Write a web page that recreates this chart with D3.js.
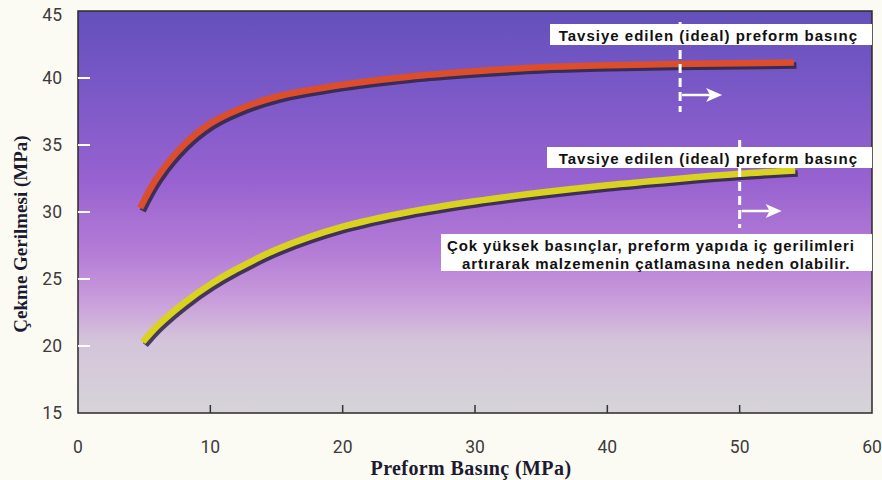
<!DOCTYPE html>
<html>
<head>
<meta charset="utf-8">
<script src="https://cdn.jsdelivr.net/npm/d3@7"></script>
<style>
  html, body { margin: 0; padding: 0; background: #fcfbf3; }
  svg { display: block; }
</style>
</head>
<body>
<svg id="chart" width="882" height="480"></svg>
<script>
// Preform pressure (MPa) vs. tensile strength (MPa)
const redPressure   = [4.7, 6, 8, 10, 12, 15, 20, 25, 30, 35, 40, 45, 50, 54.1];
const redStrength   = [30.3, 32.6, 35.0, 36.6, 37.6, 38.6, 39.5, 40.1, 40.5, 40.8, 40.95, 41.05, 41.1, 41.15];
const yellowPressure = [4.9, 6, 8, 10, 12, 15, 20, 25, 30, 35, 40, 45, 50, 54.2];
const yellowStrength = [20.3, 21.5, 23.2, 24.6, 25.75, 27.2, 28.9, 30.0, 30.8, 31.45, 32.0, 32.45, 32.85, 33.1];

const xTicks = [0, 10, 20, 30, 40, 50, 60];
const yTicks = [15, 20, 25, 30, 35, 40, 45];

// recommended (ideal) preform pressure markers, one per curve
const idealPressure = [45.5, 50];
const idealLabel = "Tavsiye edilen (ideal) preform basınç";
const warningLines = [
  "Çok yüksek basınçlar, preform yapıda iç gerilimleri",
  "artırarak malzemenin çatlamasına neden olabilir."
];
const xTitle = "Preform Basınç (MPa)";
const yTitle = "Çekme Gerilmesi (MPa)";

const svg = d3.select("#chart");
const x = d3.scaleLinear().domain([0, 60]).range([78, 872]);
const y = d3.scaleLinear().domain([15, 45]).range([413, 11]);

const defs = svg.append("defs");
const grad = defs.append("linearGradient")
  .attr("id", "bg").attr("x1", 0).attr("y1", 0).attr("x2", 0).attr("y2", 1);
[
  [0.00, "#6450bb"],
  [0.18, "#7858c6"],
  [0.42, "#9762d0"],
  [0.60, "#b47cd6"],
  [0.72, "#c99ddb"],
  [0.82, "#d4c4da"],
  [1.00, "#d6d4d8"]
].forEach(([o, c]) => grad.append("stop").attr("offset", o).attr("stop-color", c));

// plot background
svg.append("rect")
  .attr("x", x(0)).attr("y", y(45))
  .attr("width", x(60) - x(0)).attr("height", y(15) - y(45))
  .attr("fill", "url(#bg)");

// curves with a drop shadow
const line = d3.line().curve(d3.curveCatmullRom.alpha(0.5)).x(d => x(d[0])).y(d => y(d[1]));
const series = [
  { pts: d3.zip(redPressure, redStrength), color: "#dc4d2c" },
  { pts: d3.zip(yellowPressure, yellowStrength), color: "#d9d21e" }
];
series.forEach(s => {
  svg.append("path").attr("d", line(s.pts))
    .attr("transform", "translate(2.5,3)")
    .attr("fill", "none").attr("stroke", "#2e2444").attr("stroke-opacity", 0.85)
    .attr("stroke-width", 6.5);
  svg.append("path").attr("d", line(s.pts))
    .attr("fill", "none").attr("stroke", s.color).attr("stroke-width", 6.5);
});

// frame
svg.append("rect")
  .attr("x", x(0)).attr("y", y(45))
  .attr("width", x(60) - x(0)).attr("height", y(15) - y(45))
  .attr("fill", "none").attr("stroke", "#2a2a2a").attr("stroke-width", 1.5);

// y ticks (white, inside) and labels
const tickFont = "'Liberation Sans Narrow', 'Arial Narrow', 'Roboto', sans-serif";
svg.selectAll(".ytick").data(yTicks.filter(v => v > 15 && v < 45)).join("line")
  .attr("x1", x(0)).attr("x2", x(0) + 12)
  .attr("y1", d => y(d)).attr("y2", d => y(d))
  .attr("stroke", "#ffffff").attr("stroke-width", 2);
svg.selectAll(".ylab").data(yTicks).join("text")
  .attr("x", 62).attr("y", d => y(d) + (d === 45 ? 4 : 0))
  .attr("text-anchor", "end").attr("dominant-baseline", "central")
  .attr("font-family", tickFont).attr("font-size", 17.5).attr("fill", "#3c3c3c")
  .text(d => d);

// x ticks (dark, inside) and labels
svg.selectAll(".xtick").data(xTicks.filter(v => v > 0 && v < 60)).join("line")
  .attr("x1", d => x(d)).attr("x2", d => x(d))
  .attr("y1", y(15)).attr("y2", y(15) - 8)
  .attr("stroke", "#333").attr("stroke-width", 1.5);
svg.selectAll(".xlab").data(xTicks).join("text")
  .attr("x", d => x(d)).attr("y", 447)
  .attr("text-anchor", "middle").attr("dominant-baseline", "central")
  .attr("font-family", tickFont).attr("font-size", 17.5).attr("fill", "#3c3c3c")
  .text(d => d);

// axis titles
const titleFont = "'Liberation Serif', 'Times New Roman', serif";
svg.append("text")
  .attr("x", 471).attr("y", 468)
  .attr("text-anchor", "middle").attr("dominant-baseline", "central")
  .attr("font-family", titleFont).attr("font-weight", "bold").attr("font-size", 20)
  .attr("letter-spacing", 0.4)
  .attr("fill", "#1c1a30").text(xTitle);
svg.append("text")
  .attr("transform", "translate(20,234) rotate(-90)")
  .attr("text-anchor", "middle").attr("dominant-baseline", "central")
  .attr("font-family", titleFont).attr("font-weight", "bold").attr("font-size", 19)
  .attr("fill", "#1c1a30").text(yTitle);

// ideal pressure markers: dashed line, label box, arrow
const labelFont = "'Liberation Sans', Arial, sans-serif";
const markers = [
  { p: idealPressure[0], top: 22, bottom: 112, boxX: 550, boxY: 24, arrowY: 95 },
  { p: idealPressure[1], top: 140, bottom: 228, boxX: 547, boxY: 147, arrowY: 211 }
];
markers.forEach(m => {
  const mx = x(m.p);
  svg.append("line")
    .attr("x1", mx).attr("x2", mx).attr("y1", m.top).attr("y2", m.bottom)
    .attr("stroke", "#ffffff").attr("stroke-width", 3).attr("stroke-dasharray", "9,5");
  svg.append("rect")
    .attr("x", m.boxX).attr("y", m.boxY).attr("width", 872 - m.boxX).attr("height", 21)
    .attr("fill", "#ffffff");
  svg.append("text")
    .attr("x", 858).attr("y", m.boxY + 11)
    .attr("text-anchor", "end").attr("dominant-baseline", "central")
    .attr("font-family", labelFont).attr("font-weight", "bold").attr("font-size", 15)
    .attr("letter-spacing", 1.0).attr("fill", "#111").text(idealLabel);
  svg.append("line")
    .attr("x1", mx + 2).attr("x2", mx + 30).attr("y1", m.arrowY).attr("y2", m.arrowY)
    .attr("stroke", "#ffffff").attr("stroke-width", 2.5);
  svg.append("path")
    .attr("d", `M${mx + 26},${m.arrowY - 7} L${mx + 42},${m.arrowY} L${mx + 26},${m.arrowY + 7} L${mx + 30},${m.arrowY} Z`)
    .attr("fill", "#ffffff");
});

// warning note
svg.append("rect")
  .attr("x", 441).attr("y", 234).attr("width", 431).attr("height", 37)
  .attr("fill", "#ffffff");
svg.selectAll(".warn").data(warningLines).join("text")
  .attr("x", (d, i) => i === 0 ? 447 : 462)
  .attr("y", (d, i) => 245 + i * 18)
  .attr("dominant-baseline", "central")
  .attr("font-family", labelFont).attr("font-weight", "bold").attr("font-size", 15)
  .attr("letter-spacing", 0.9).attr("fill", "#111").text(d => d);
</script>
</body>
</html>
